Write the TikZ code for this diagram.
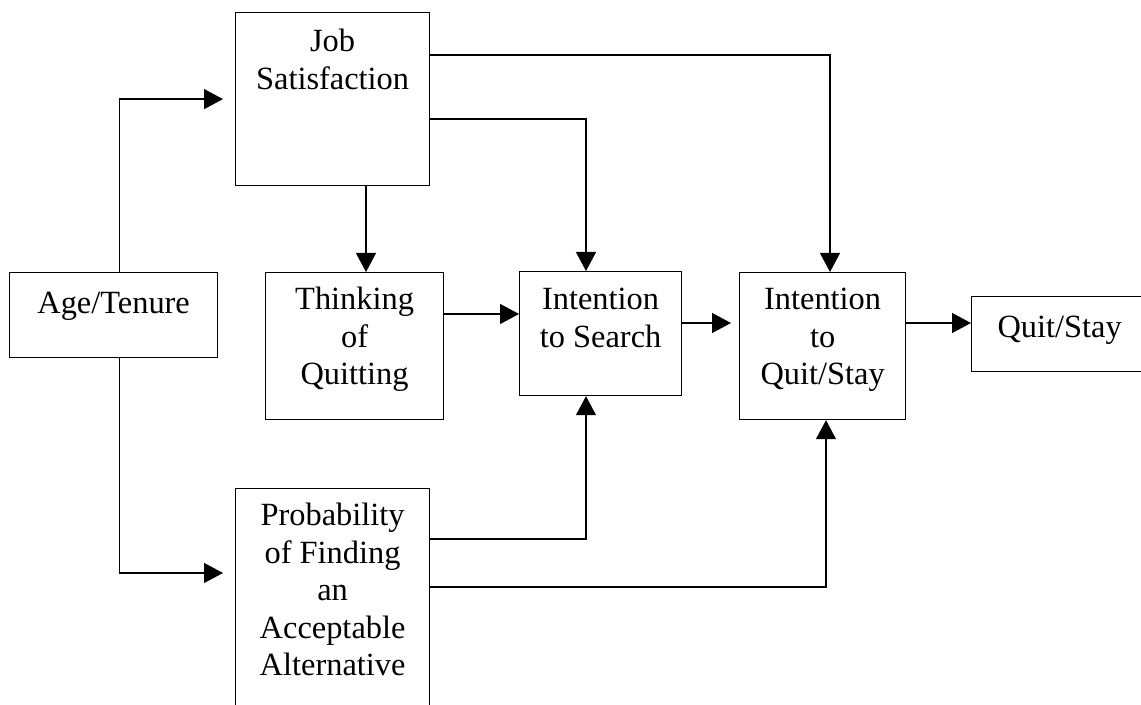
\documentclass[tikz,border=0pt]{standalone}
\usepackage{fontspec}
\setmainfont{Liberation Serif}
\usetikzlibrary{calc,arrows.meta}
\tikzset{
	block/.style={draw, line width=0.6pt, inner sep=0pt, align=flush center, anchor=north west,
		font=\fontsize{16.2pt}{18.8pt}\selectfont},
	arr/.style={line width=0.6pt, -{Triangle[length=9.5pt,width=10pt]}}
}

\begin{document}
\begin{tikzpicture}[x=0.5pt, y=-0.5pt]
		%%%%% START %%%%%
		\useasboundingbox (0, 0) rectangle (1141, 705);
		\clip (0, 0) rectangle (1141, 705);
		
		\node[block, text width=97pt, text height=19.5pt, text depth=67pt] (js) at (235, 12) {Job\\Satisfaction};
		\node[block, text width=104pt, text height=20.5pt, text depth=22pt] (age) at (9, 272) {Age/Tenure};
		\node[block, text width=89pt, text height=18.5pt, text depth=55pt] (tq) at (265, 272) {Thinking\\of\\Quitting};
		\node[block, text width=81pt, text height=19pt, text depth=43pt] (is) at (519, 271) {Intention\\to Search};
		\node[block, text width=83pt, text height=18.5pt, text depth=55pt] (iq) at (739, 272) {Intention\\to\\Quit/Stay};
		\node[block, text width=88pt, text height=20.5pt, text depth=17pt] (qs) at (971, 296) {Quit/Stay};
		\node[block, text width=97pt, text height=18.5pt, text depth=101.5pt] (prob) at (235, 488) {Probability\\of Finding\\an\\Acceptable\\Alternative};
		
		% age/tenure
		\draw[arr] ($(age.north)+(6, 0)$) |- ($(js.west)+(-12, 0)$);
		\draw[arr] ($(age.south)+(6, 0)$) |- ($(prob.north west)+(-12, 85)$);
		
		% job satisfaction
		\draw[arr] ($(js.south west)+(131, 0)$) -- ($(tq.north west)+(101, 0)$);
		\draw[arr] ($(js.north east)+(0, 107)$) -| ($(is.north west)+(67, 0)$);
		\draw[arr] ($(js.north east)+(0, 43)$) -| ($(iq.north west)+(91, 0)$);
		
		% chain
		\draw[arr] ($(tq.north east)+(0, 42)$) -- ($(is.north west)+(0, 43)$);
		\draw[arr] ($(is.north east)+(0, 52)$) -- ($(iq.north west)+(-8, 51)$);
		\draw[arr] ($(iq.north east)+(0, 51)$) -- ($(qs.north west)+(0, 27)$);
		
		% probability
		\draw[arr] ($(prob.north east)+(0, 51)$) -| ($(is.south west)+(67, 0)$);
		\draw[arr] ($(prob.north east)+(0, 99)$) -| ($(iq.south west)+(87, 0)$);
		%%%%% END %%%%%
	\end{tikzpicture}
\end{document}
